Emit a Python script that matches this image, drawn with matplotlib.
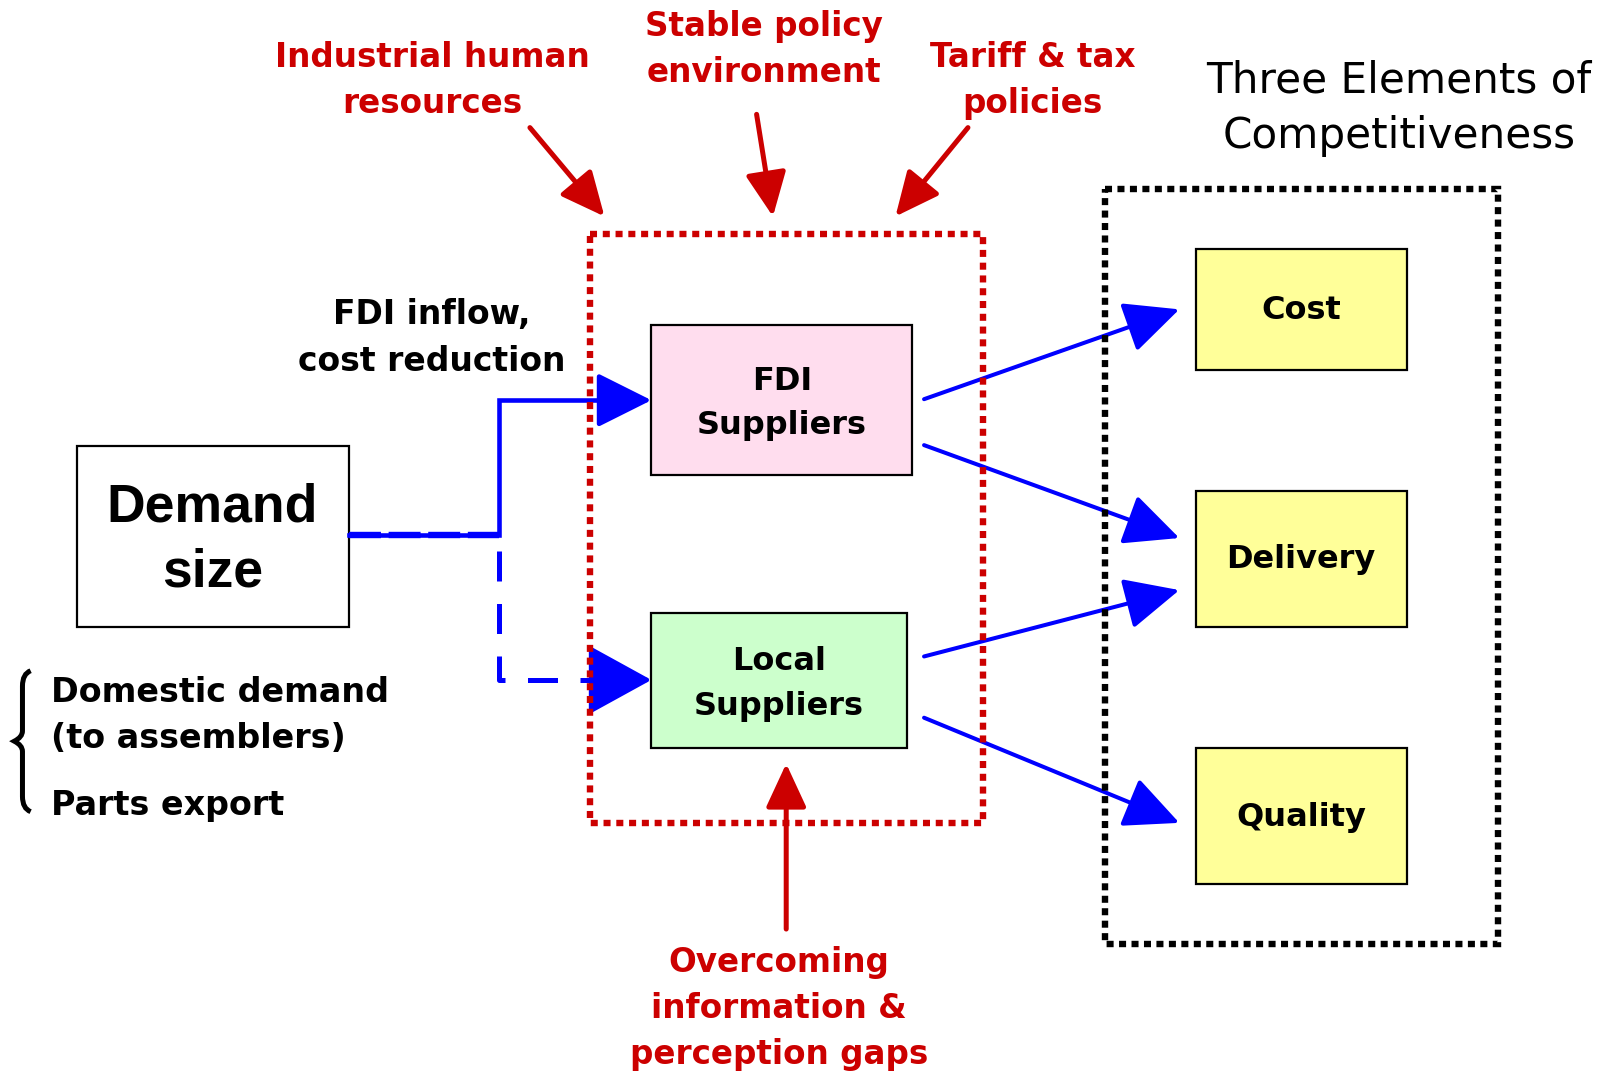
import matplotlib.pyplot as plt
from matplotlib.patches import Rectangle, PathPatch
from matplotlib.path import Path

# texts
title_lines = "Three Elements of\nCompetitiveness"
red_labels = ["Industrial human\nresources", "Stable policy\nenvironment",
              "Tariff & tax\npolicies", "Overcoming\ninformation &\nperception gaps"]
supplier_labels = ["FDI\nSuppliers", "Local\nSuppliers"]
element_labels = ["Cost", "Delivery", "Quality"]
demand_label = "Demand\nsize"
flow_label = "FDI inflow,\ncost reduction"
demand_kinds = ["Domestic demand\n(to assemblers)", "Parts export"]

RED = '#CC0000'
BLUE = '#0000FF'

fig = plt.figure(figsize=(16.01, 10.73), dpi=100)
ax = fig.add_axes([0, 0, 1, 1])
ax.set_xlim(0, 1568)
ax.set_ylim(1051, 0)
ax.axis('off')


def box(x0, y0, x1, y1, fc, **kw):
    ax.add_patch(Rectangle((x0, y0), x1 - x0, y1 - y0, fc=fc, ec='black', lw=1.6, **kw))


def arrow(p0, p1, color, lw, hl, hw, ls='-'):
    ax.annotate('', xy=p1, xytext=p0,
                arrowprops=dict(arrowstyle='-|>,head_length=%g,head_width=%g' % (hl, hw),
                                lw=lw, color=color, shrinkA=0, shrinkB=0, linestyle=ls))


# dotted frames
ax.add_patch(Rectangle((578, 229), 963 - 578, 806 - 229, fill=False, ec=RED,
                       lw=4.6, ls=(0, (1.1, 0.9)), zorder=4))
ax.add_patch(Rectangle((1082, 185), 1467 - 1082, 925 - 185, fill=False, ec='black',
                       lw=4.6, ls=(0, (1.1, 0.85)), zorder=4))

# boxes
box(75, 437, 342, 614, 'white')
box(638, 318, 893, 465, '#FFDDEE')
box(638, 600, 888, 733, '#CCFFCC')
elem_y = [(244, 362), (481, 614), (733, 866)]
for (y0, y1), lab in zip(elem_y, element_labels):
    box(1171, y0, 1378, y1, '#FFFF99')
    ax.text(1274, (y0 + y1) / 2 + 1, lab, ha='center', va='center', fontsize=23,
            fontweight='bold', family='DejaVu Sans')

ax.text(208, 529, demand_label, ha='center', va='center', fontsize=38.5, fontweight='bold',
        family='Liberation Sans', linespacing=1.4)
ax.text(766, 395, supplier_labels[0], ha='center', va='center', fontsize=23,
        fontweight='bold', linespacing=1.55)
ax.text(763, 670, supplier_labels[1], ha='center', va='center', fontsize=23,
        fontweight='bold', linespacing=1.55)

# blue flows from demand
ax.plot([342, 489, 489, 600], [524, 524, 392, 392], color=BLUE, lw=3.3, solid_joinstyle='miter')
ax.plot([342, 489], [524, 524], color=BLUE, lw=4.6, ls=(0, (5, 1.2)))
arrow((589, 392), (638, 392), BLUE, 3.3, 3.4, 1.7)
ax.plot([489, 489, 585], [540, 666, 666], color=BLUE, lw=3.6, ls=(0, (6, 4.5)),
        solid_joinstyle='miter')
arrow((580, 666), (638, 666), BLUE, 3.3, 4.0, 2.2)

# blue arrows to the three elements
for p0, p1 in [((905, 391), (1155, 303)), ((905, 436), (1155, 527)),
               ((905, 643), (1155, 578)), ((905, 703), (1155, 806))]:
    arrow(p0, p1, BLUE, 2.9, 3.4, 1.6)

# red policy arrows
for p0, p1 in [((519, 125), (592, 212)), ((741, 112), (757, 212)),
               ((948, 125), (877, 212)), ((770, 910), (770, 748))]:
    arrow(p0, p1, RED, 3.6, 2.7, 1.25)

# red labels
red_pos = [(423, 79), (748, 48), (1011, 79), (763, 988)]
for (x, y), lab in zip(red_pos, red_labels):
    ax.text(x, y, lab, ha='center', va='center', color=RED, fontsize=23.5,
            fontweight='bold', linespacing=1.5)

ax.text(1370, 106, title_lines, ha='center', va='center', fontsize=30.3, linespacing=1.4)
ax.text(423, 331, flow_label, ha='center', va='center', fontsize=23.8, fontweight='bold',
        linespacing=1.52)

# brace and demand kinds
verts = [(30, 657), (22, 660), (22, 672), (22, 716), (22, 722), (14, 726),
         (22, 730), (22, 736), (22, 780), (22, 792), (30, 795)]
codes = [Path.MOVETO, Path.CURVE3, Path.CURVE3, Path.LINETO, Path.CURVE3, Path.CURVE3,
         Path.CURVE3, Path.CURVE3, Path.LINETO, Path.CURVE3, Path.CURVE3]
ax.add_patch(PathPatch(Path(verts, codes), fill=False, lw=3.6, ec='black'))
ax.text(50, 701, demand_kinds[0], ha='left', va='center', fontsize=24, fontweight='bold',
        linespacing=1.5)
ax.text(50, 789, demand_kinds[1], ha='left', va='center', fontsize=24, fontweight='bold')

fig.savefig('out.png', dpi=100)
